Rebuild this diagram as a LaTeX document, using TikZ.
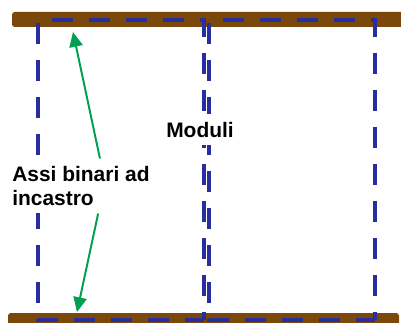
\documentclass[tikz,border=0pt]{standalone}
\usepackage{fontspec}
\setmainfont{Liberation Sans}
\usetikzlibrary{arrows.meta}
\definecolor{balkbrown}{RGB}{122,72,10}
\definecolor{modblue}{RGB}{40,45,160}
\definecolor{pijlgreen}{RGB}{0,160,80}

\begin{document}
\begin{tikzpicture}[
    balk/.style={fill=balkbrown, rounded corners=2pt},
    moduleline/.style={draw=modblue, line width=3.5pt,
                  dash pattern=on 0.525cm off 0.4cm},
    tekst/.style={fill=white, inner sep=0.2cm, align=left,
                  font=\bfseries\fontsize{14.9pt}{16.4pt}\selectfont},
    arrow/.style={-{Triangle[length=10.5pt,width=9.5pt]},
                  line width=1.4pt, draw=pijlgreen, fill=pijlgreen}
]
    \useasboundingbox (0,0) rectangle (10.025,8.05);

    % balken boven en onder
    \path[balk] (0.3,7.375) rectangle (10.3,7.75);
    \path[balk] (0.2,-0.3) rectangle (9.975,0.225);

    % twee modules, elk in twee halve omtrekken
    \foreach \xl/\xr in {0.95/5.1, 5.225/9.375} {
        \draw[moduleline, dash phase=0.575cm]
            (\xl,7.55) -- (\xr,7.55) -- (\xr,0.05);
        \draw[moduleline, dash phase=0.85cm]
            (\xl,7.55) -- (\xl,0.05) -- (\xr,0.05);
    }

    % teksten
    \node[tekst, anchor=west] (assi) at (0.1,3.4)
        {Assi binari ad\\incastro};
    \node[tekst, anchor=base] (moduli) at (5.0,4.625) {Moduli};

    % pijlen naar de balken
    \coordinate (toptip) at (1.825,7.25);
    \coordinate (bottip) at (1.925,0.25);
    \draw[arrow] ([xshift=0.475cm]assi.north) -- (toptip);
    \draw[arrow] ([xshift=0.43cm]assi.south) -- (bottip);

\end{tikzpicture}
\end{document}
